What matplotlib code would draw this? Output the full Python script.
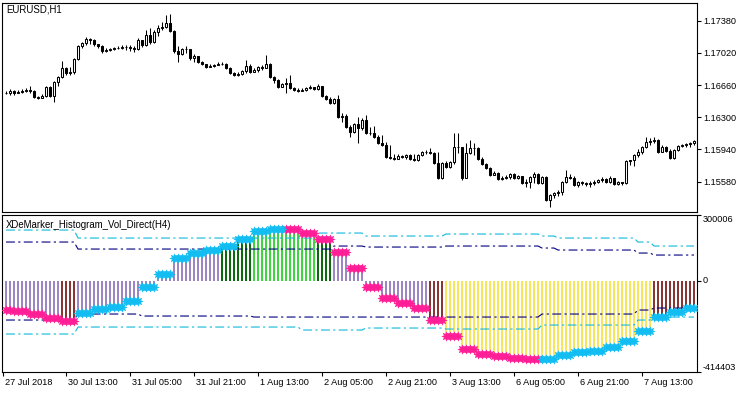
import numpy as np
import matplotlib
matplotlib.use("Agg")
import matplotlib.pyplot as plt

plt.rcParams['font.family'] = ['Liberation Sans', 'DejaVu Sans']

# ---------------- data ----------------
symbol_title = "EURUSD,H1"
osc_title = "XDeMarker_Histogram_Vol_Direct(H4)"

first_open = 1.16572
closes = [
    1.16572, 1.16594, 1.16572, 1.16583, 1.16594, 1.16605, 1.16594, 1.16527, 1.16516, 1.16538,
    1.16639, 1.16538, 1.16695, 1.16751, 1.16851, 1.16795, 1.16806, 1.16952, 1.17097, 1.17131,
    1.17175, 1.17164, 1.17120, 1.17097, 1.17041, 1.17052, 1.17064, 1.17075, 1.17075, 1.17086,
    1.17086, 1.17075, 1.17064, 1.17164, 1.17108, 1.17220, 1.17142, 1.17254, 1.17298, 1.17310,
    1.17354, 1.17265, 1.17041, 1.17008, 1.17064, 1.17064, 1.16963, 1.16985, 1.16918, 1.16896,
    1.16862, 1.16874, 1.16885, 1.16896, 1.16896, 1.16851, 1.16795, 1.16773, 1.16784, 1.16818,
    1.16874, 1.16806, 1.16829, 1.16862, 1.16851, 1.16896, 1.16751, 1.16717, 1.16639, 1.16672,
    1.16683, 1.16628, 1.16605, 1.16594, 1.16605, 1.16628, 1.16639, 1.16616, 1.16650, 1.16538,
    1.16505, 1.16460, 1.16505, 1.16303, 1.16315, 1.16192, 1.16136, 1.16225, 1.16180, 1.16270,
    1.16124, 1.16124, 1.16080, 1.16013, 1.15990, 1.15856, 1.15845, 1.15834, 1.15867, 1.15856,
    1.15879, 1.15834, 1.15823, 1.15879, 1.15912, 1.15912, 1.15901, 1.15789, 1.15621, 1.15789,
    1.15744, 1.15800, 1.15968, 1.15968, 1.15621, 1.15901, 1.15957, 1.15957, 1.15834, 1.15778,
    1.15733, 1.15655, 1.15677, 1.15610, 1.15621, 1.15633, 1.15666, 1.15621, 1.15644, 1.15566,
    1.15577, 1.15633, 1.15666, 1.15566, 1.15633, 1.15375, 1.15431, 1.15454, 1.15465, 1.15577,
    1.15633, 1.15621, 1.15543, 1.15577, 1.15566, 1.15554, 1.15566, 1.15577, 1.15599, 1.15610,
    1.15577, 1.15621, 1.15554, 1.15577, 1.15566, 1.15812, 1.15823, 1.15879, 1.15912, 1.15968,
    1.16024, 1.16035, 1.16046, 1.15912, 1.15968, 1.15923, 1.15845, 1.15934, 1.15979, 1.15990,
    1.16002, 1.16013, 1.16035,
]
highs = [
    1.16594, 1.16616, 1.16605, 1.16605, 1.16616, 1.16628, 1.16650, 1.16605, 1.16538, 1.16561,
    1.16650, 1.16650, 1.16706, 1.16762, 1.16929, 1.16862, 1.16862, 1.16963, 1.17108, 1.17142,
    1.17198, 1.17187, 1.17175, 1.17120, 1.17108, 1.17075, 1.17075, 1.17086, 1.17097, 1.17108,
    1.17108, 1.17108, 1.17097, 1.17187, 1.17164, 1.17276, 1.17298, 1.17276, 1.17332, 1.17365,
    1.17444, 1.17455, 1.17276, 1.17097, 1.17075, 1.17097, 1.17064, 1.17008, 1.16974, 1.16929,
    1.16896, 1.16896, 1.16896, 1.16918, 1.16918, 1.16907, 1.16862, 1.16806, 1.16806, 1.16829,
    1.16941, 1.16896, 1.16851, 1.16874, 1.16885, 1.16997, 1.16907, 1.16762, 1.16728, 1.16683,
    1.16739, 1.16773, 1.16639, 1.16628, 1.16628, 1.16639, 1.16661, 1.16639, 1.16672, 1.16650,
    1.16549, 1.16527, 1.16516, 1.16549, 1.16348, 1.16337, 1.16214, 1.16236, 1.16303, 1.16292,
    1.16326, 1.16192, 1.16203, 1.16102, 1.16102, 1.16024, 1.15990, 1.15890, 1.15890, 1.15879,
    1.15890, 1.15890, 1.15890, 1.15890, 1.15923, 1.15934, 1.15957, 1.15912, 1.15912, 1.15800,
    1.15812, 1.15812, 1.16124, 1.16124, 1.15968, 1.16013, 1.16046, 1.16013, 1.15968, 1.15856,
    1.15789, 1.15744, 1.15700, 1.15688, 1.15644, 1.15655, 1.15677, 1.15677, 1.15655, 1.15644,
    1.15610, 1.15644, 1.15688, 1.15677, 1.15644, 1.15644, 1.15443, 1.15465, 1.15487, 1.15588,
    1.15711, 1.15666, 1.15644, 1.15588, 1.15588, 1.15577, 1.15588, 1.15599, 1.15610, 1.15633,
    1.15621, 1.15644, 1.15621, 1.15588, 1.15577, 1.15823, 1.15823, 1.15890, 1.15946, 1.15979,
    1.16080, 1.16069, 1.16080, 1.16057, 1.15990, 1.15979, 1.15946, 1.15946, 1.15990, 1.16002,
    1.16013, 1.16024, 1.16046,
]
lows = [
    1.16561, 1.16549, 1.16549, 1.16572, 1.16572, 1.16583, 1.16572, 1.16516, 1.16505, 1.16516,
    1.16527, 1.16527, 1.16471, 1.16650, 1.16739, 1.16773, 1.16773, 1.16784, 1.16941, 1.17075,
    1.17108, 1.17120, 1.17097, 1.17075, 1.17019, 1.17030, 1.17041, 1.17052, 1.17064, 1.17064,
    1.17052, 1.17041, 1.17030, 1.17052, 1.17086, 1.17097, 1.17120, 1.17131, 1.17209, 1.17276,
    1.17298, 1.17254, 1.17019, 1.16918, 1.16997, 1.17019, 1.16941, 1.16918, 1.16907, 1.16885,
    1.16851, 1.16862, 1.16862, 1.16885, 1.16885, 1.16840, 1.16784, 1.16762, 1.16762, 1.16773,
    1.16795, 1.16795, 1.16806, 1.16806, 1.16829, 1.16851, 1.16739, 1.16683, 1.16628, 1.16639,
    1.16572, 1.16616, 1.16594, 1.16583, 1.16594, 1.16594, 1.16616, 1.16605, 1.16605, 1.16527,
    1.16493, 1.16449, 1.16449, 1.16292, 1.16247, 1.16180, 1.16080, 1.16124, 1.16013, 1.16158,
    1.16113, 1.16102, 1.16069, 1.16002, 1.15979, 1.15845, 1.15834, 1.15823, 1.15834, 1.15845,
    1.15834, 1.15823, 1.15812, 1.15812, 1.15867, 1.15890, 1.15890, 1.15778, 1.15610, 1.15610,
    1.15733, 1.15733, 1.15778, 1.15901, 1.15599, 1.15700, 1.15890, 1.15879, 1.15823, 1.15767,
    1.15722, 1.15644, 1.15655, 1.15599, 1.15599, 1.15610, 1.15610, 1.15610, 1.15610, 1.15554,
    1.15521, 1.15510, 1.15566, 1.15554, 1.15554, 1.15364, 1.15297, 1.15398, 1.15420, 1.15431,
    1.15566, 1.15610, 1.15532, 1.15521, 1.15543, 1.15532, 1.15521, 1.15543, 1.15566, 1.15577,
    1.15566, 1.15566, 1.15543, 1.15543, 1.15543, 1.15554, 1.15767, 1.15756, 1.15856, 1.15890,
    1.15957, 1.15990, 1.16013, 1.15901, 1.15912, 1.15912, 1.15834, 1.15834, 1.15923, 1.15968,
    1.15968, 1.15968, 1.15990,
]

# H4 oscillator values (one per H4 block; H1 bars 0-1 form the first, partial block)
osc_blocks = [
    -132000, -137000, -150600, -168800, -182500, -146000, -127900, -118800, -91500, -27800,
    31400, 104200, 126900, 140600, 158800, 193000, 227000, 238400, 236100, 220200,
    192900, 131500, 58700, -27800, -77800, -100600, -123300, -177900, -250700, -309900,
    -332600, -341700, -350800, -355400, -353000, -337200, -323500, -319000, -300800, -273500,
    -228000, -163000, -141500, -125000,
]
upper_outer = ([231600] * 5 + [195200] * 15 + [217900] * 3 + [204300] * 5 + [213400] * 6
               + [204300] + [195200] * 5 + [177000] + [158800] * 3)
upper_inner = ([177000] * 5 + [145100] * 16 + [158800] * 2 + [154200] * 5 + [158800] * 6
               + [149700] + [140600] * 5 + [126900] + [117800] * 3)
lower_inner = ([-177900] * 5 + [-150600] * 4 + [-159700] * 7 + [-164300] * 18
               + [-150600] * 6 + [-132400] + [-123300] * 3)
lower_outer = ([-241600] * 5 + [-209800] * 14 + [-223400] * 4 + [-214300] * 5 + [-218900] * 6
               + [-200700] * 6 + [-177900] + [-164300] * 3)

osc_max, osc_min = 300006, -414403
price_ticks = [1.17380, 1.17020, 1.16660, 1.16300, 1.15940, 1.15580]
price_lim = (1.15241, 1.17578)

x_label_bars = [-0.75, 15, 31, 47, 63, 79, 95, 111, 127, 143, 159]
x_labels = ["27 Jul 2018", "30 Jul 13:00", "31 Jul 05:00", "31 Jul 21:00", "1 Aug 13:00",
            "2 Aug 05:00", "2 Aug 21:00", "3 Aug 13:00", "6 Aug 05:00", "6 Aug 21:00",
            "7 Aug 13:00"]

# ---------------- styles ----------------
C_LIME, C_DKGREEN, C_PURPLE, C_BROWN, C_YELLOW = "#3ED63E", "#0B6A0B", "#9C86C6", "#8B3434", "#F7E55E"
C_PINK, C_BLUE = "#FF1E96", "#12BDF2"
C_LVL_OUT, C_LVL_IN = "#10B8DC", "#000080"
FS = 6.6

W, H = 750, 394
fig = plt.figure(figsize=(W / 100, H / 100), dpi=100)
fig.patch.set_facecolor("white")
ax1 = fig.add_axes([2 / W, (H - 212) / H, 695 / W, 209 / H])
ax2 = fig.add_axes([2 / W, (H - 372) / H, 695 / W, 157 / H])

n = len(closes)
idx = np.arange(n)
c = np.array(closes)
o = np.r_[first_open, c[:-1]]
hi = np.maximum(np.array(highs), np.maximum(o, c))
lo = np.minimum(np.array(lows), np.minimum(o, c))
up = c >= o

for ax in (ax1, ax2):
    ax.set_xlim(-1, 172.75)
    for s in ax.spines.values():
        s.set_linewidth(0.8)
        s.set_color("black")

# ---------------- candles ----------------
ax1.vlines(idx, lo, hi, color="black", lw=0.75, zorder=2)
ax1.bar(idx, np.abs(c - o), bottom=np.minimum(o, c), width=0.5,
        color=np.where(up, "white", "black"), edgecolor="black", linewidth=0.75, zorder=3)
ax1.set_ylim(*price_lim)
ax1.set_xticks([])
ax1.yaxis.tick_right()
ax1.set_yticks(price_ticks)
ax1.set_yticklabels([f"{p:.5f}" for p in price_ticks], fontsize=FS)
ax1.tick_params(axis="y", direction="out", length=3, width=0.8, pad=1.5)
ax1.text(4 / 695, 1 - 6.5 / 209, symbol_title, transform=ax1.transAxes, fontsize=FS + 0.3,
         ha="left", va="center")

# ---------------- oscillator ----------------
blk = (idx + 2) // 4
vals_b = np.array(osc_blocks, dtype=float)
uo = np.array(upper_outer, dtype=float)
ui = np.array(upper_inner, dtype=float)
li = np.array(lower_inner, dtype=float)
lout = np.array(lower_outer, dtype=float)

vals = vals_b[blk]


def hist_color(k):
    v = vals_b[k]
    if v >= uo[k]:
        return C_LIME
    if v >= ui[k]:
        return C_DKGREEN
    if v > li[k]:
        return C_PURPLE
    if v > lout[k]:
        return C_BROWN
    return C_YELLOW


bar_cols = [hist_color(k) for k in blk]
ax2.bar(idx, vals, width=0.5, color=bar_cols, linewidth=0, zorder=2)

dash = (0, (8, 3, 2, 3))
ax2.plot(idx, uo[blk], color=C_LVL_OUT, lw=0.8, ls=dash, zorder=3)
ax2.plot(idx, ui[blk], color=C_LVL_IN, lw=0.8, ls=dash, zorder=3)
ax2.plot(idx, li[blk], color=C_LVL_IN, lw=0.8, ls=dash, zorder=3)
ax2.plot(idx, lout[blk], color=C_LVL_OUT, lw=0.8, ls=dash, zorder=3)

falling_b = np.r_[True, vals_b[1:] < vals_b[:-1]]
falling = falling_b[blk]
ax2.plot(idx[falling], vals[falling], ls="none", marker=(8, 1, 0), ms=6.8,
         color=C_PINK, mec=C_PINK, mew=0.3, zorder=4)
ax2.plot(idx[~falling], vals[~falling], ls="none", marker=(8, 1, 0), ms=6.8,
         color=C_BLUE, mec=C_BLUE, mew=0.3, zorder=4)

ax2.set_ylim(osc_min, osc_max)
ax2.yaxis.tick_right()
ax2.set_yticks([osc_max, 0, osc_min])
ax2.set_yticklabels([])
ax2.tick_params(axis="y", direction="out", length=3, width=0.8)
for val, dy in ((osc_max, -5), (0, 0), (osc_min, 5)):
    ax2.annotate(f"{val:d}", xy=(1, val), xycoords=("axes fraction", "data"),
                 xytext=(4, dy * 0.72), textcoords="offset points", fontsize=FS,
                 ha="left", va="center")
ax2.text(4 / 695, 1 - 10 / 157, osc_title, transform=ax2.transAxes, fontsize=FS + 0.3,
         ha="left", va="center")

ax2.set_xticks(x_label_bars)
ax2.set_xticklabels([])
ax2.tick_params(axis="x", direction="out", length=3, width=0.8)
for xb, lab in zip(x_label_bars, x_labels):
    ax2.annotate(lab, xy=(xb, 0), xycoords=("data", "axes fraction"),
                 xytext=(1.5, -7.5), textcoords="offset points", fontsize=FS,
                 ha="left", va="center")

fig.savefig("out.png", dpi=100, facecolor="white")
